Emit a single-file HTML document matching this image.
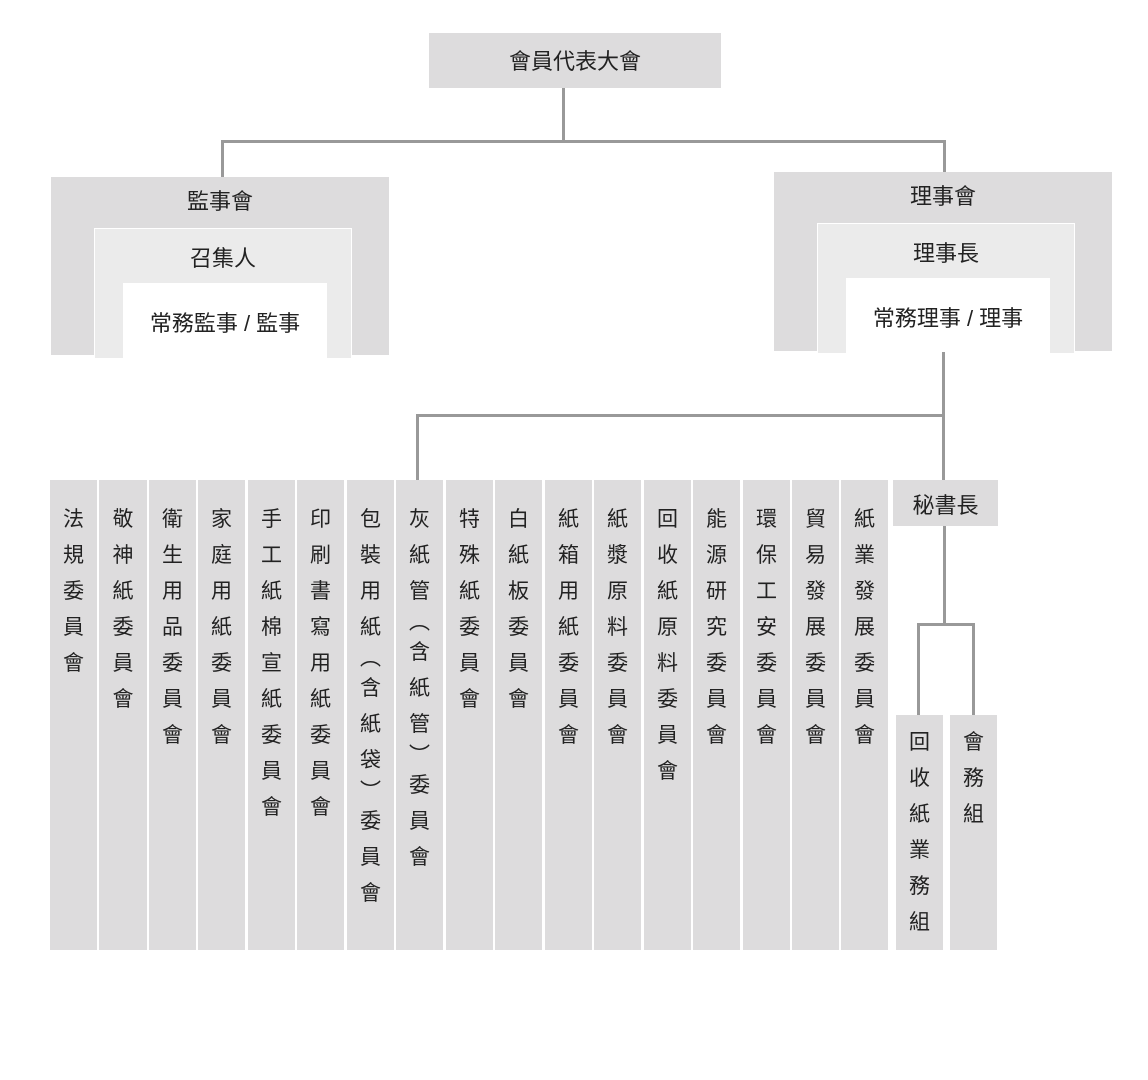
<!DOCTYPE html>
<html><head><meta charset="utf-8"><style>
body{margin:0;width:1148px;height:1080px;background:#fff;position:relative;overflow:hidden;font-family:"Liberation Sans","Noto Sans CJK TC",sans-serif;color:#222}
.b{position:absolute}
.t{position:absolute;text-align:center;font-size:22px;line-height:26px}
.l{position:absolute;background:#999}
.col{position:absolute;top:480px;height:470px;background:#dddcdd;text-align:center;font-size:21px;padding-top:22px;box-sizing:border-box}
.col div{height:36px;line-height:36px}
.col div.p{height:25px;line-height:25px}
</style></head><body>
<div class="b" style="left:429px;top:33px;width:292px;height:55px;background:#dddcdd"></div>
<div class="t" style="left:429px;top:49px;width:292px">會員代表大會</div>
<div class="l" style="left:562px;top:88px;width:3px;height:54px"></div>
<div class="l" style="left:221px;top:140px;width:725px;height:3px"></div>
<div class="l" style="left:221px;top:140px;width:3px;height:37px"></div>
<div class="l" style="left:943px;top:140px;width:3px;height:32px"></div>

<div class="b" style="left:51px;top:177px;width:338px;height:178px;background:#dddcdd"></div>
<div class="b" style="left:94px;top:228px;width:256px;height:129px;background:#ebebeb;border:1px solid #fff;border-bottom:none"></div>
<div class="b" style="left:123px;top:283px;width:204px;height:75px;background:#fff"></div>
<div class="t" style="left:51px;top:189px;width:338px">監事會</div>
<div class="t" style="left:94px;top:246px;width:258px">召集人</div>
<div class="t" style="left:123px;top:311px;width:204px">常務監事 / 監事</div>

<div class="b" style="left:774px;top:172px;width:338px;height:179px;background:#dddcdd"></div>
<div class="b" style="left:817px;top:223px;width:256px;height:129px;background:#ebebeb;border:1px solid #fff;border-bottom:none"></div>
<div class="b" style="left:846px;top:278px;width:204px;height:75px;background:#fff"></div>
<div class="t" style="left:774px;top:184px;width:338px">理事會</div>
<div class="t" style="left:817px;top:241px;width:258px">理事長</div>
<div class="t" style="left:846px;top:306px;width:204px">常務理事 / 理事</div>

<div class="l" style="left:942px;top:352px;width:3px;height:128px"></div>
<div class="l" style="left:416px;top:414px;width:528px;height:3px"></div>
<div class="l" style="left:416px;top:414px;width:3px;height:66px"></div>

<div class="b" style="left:893px;top:480px;width:105px;height:46px;background:#dddcdd"></div>
<div class="t" style="left:893px;top:493px;width:105px">秘書長</div>
<div class="l" style="left:943px;top:526px;width:3px;height:100px"></div>
<div class="l" style="left:917px;top:623px;width:58px;height:3px"></div>
<div class="l" style="left:917px;top:623px;width:3px;height:92px"></div>
<div class="l" style="left:972px;top:623px;width:3px;height:92px"></div>

<div class="col" style="left:896px;top:715px;height:235px;width:47px;padding-top:10px"><div>回</div><div>收</div><div>紙</div><div>業</div><div>務</div><div>組</div></div>
<div class="col" style="left:950px;top:715px;height:235px;width:47px;padding-top:10px"><div>會</div><div>務</div><div>組</div></div>

<div class="col" style="left:50px;width:47px"><div>法</div><div>規</div><div>委</div><div>員</div><div>會</div></div>
<div class="col" style="left:99px;width:48px"><div>敬</div><div>神</div><div>紙</div><div>委</div><div>員</div><div>會</div></div>
<div class="col" style="left:149px;width:47px"><div>衛</div><div>生</div><div>用</div><div>品</div><div>委</div><div>員</div><div>會</div></div>
<div class="col" style="left:198px;width:47px"><div>家</div><div>庭</div><div>用</div><div>紙</div><div>委</div><div>員</div><div>會</div></div>
<div class="col" style="left:248px;width:47px"><div>手</div><div>工</div><div>紙</div><div>棉</div><div>宣</div><div>紙</div><div>委</div><div>員</div><div>會</div></div>
<div class="col" style="left:297px;width:47px"><div>印</div><div>刷</div><div>書</div><div>寫</div><div>用</div><div>紙</div><div>委</div><div>員</div><div>會</div></div>
<div class="col" style="left:347px;width:47px"><div>包</div><div>裝</div><div>用</div><div>紙</div><div class="p">︵</div><div>含</div><div>紙</div><div>袋</div><div class="p">︶</div><div>委</div><div>員</div><div>會</div></div>
<div class="col" style="left:396px;width:47px"><div>灰</div><div>紙</div><div>管</div><div class="p">︵</div><div>含</div><div>紙</div><div>管</div><div class="p">︶</div><div>委</div><div>員</div><div>會</div></div>
<div class="col" style="left:446px;width:47px"><div>特</div><div>殊</div><div>紙</div><div>委</div><div>員</div><div>會</div></div>
<div class="col" style="left:495px;width:47px"><div>白</div><div>紙</div><div>板</div><div>委</div><div>員</div><div>會</div></div>
<div class="col" style="left:545px;width:47px"><div>紙</div><div>箱</div><div>用</div><div>紙</div><div>委</div><div>員</div><div>會</div></div>
<div class="col" style="left:594px;width:47px"><div>紙</div><div>漿</div><div>原</div><div>料</div><div>委</div><div>員</div><div>會</div></div>
<div class="col" style="left:644px;width:47px"><div>回</div><div>收</div><div>紙</div><div>原</div><div>料</div><div>委</div><div>員</div><div>會</div></div>
<div class="col" style="left:693px;width:47px"><div>能</div><div>源</div><div>研</div><div>究</div><div>委</div><div>員</div><div>會</div></div>
<div class="col" style="left:743px;width:47px"><div>環</div><div>保</div><div>工</div><div>安</div><div>委</div><div>員</div><div>會</div></div>
<div class="col" style="left:792px;width:47px"><div>貿</div><div>易</div><div>發</div><div>展</div><div>委</div><div>員</div><div>會</div></div>
<div class="col" style="left:841px;width:47px"><div>紙</div><div>業</div><div>發</div><div>展</div><div>委</div><div>員</div><div>會</div></div>
</body></html>
